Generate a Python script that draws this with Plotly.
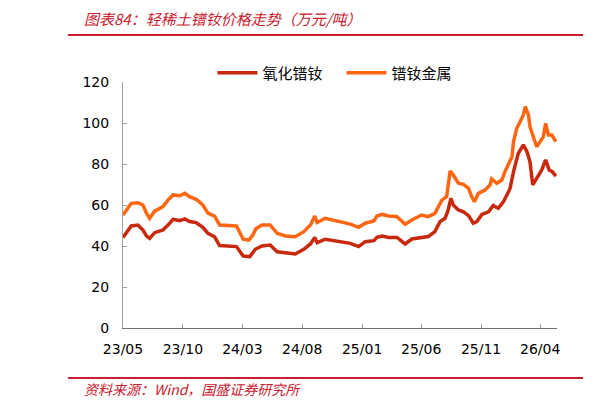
import plotly.graph_objects as go

# 轻稀土镨钕价格走势 (万元/吨)

oxide_dates = [
    "2023-05-01", "2023-05-22", "2023-06-08", "2023-06-21", "2023-06-30", "2023-07-08",
    "2023-07-21", "2023-08-11", "2023-08-24", "2023-09-06", "2023-09-23", "2023-10-06",
    "2023-10-18", "2023-11-04", "2023-11-21", "2023-12-04", "2023-12-21", "2024-01-03",
    "2024-02-15", "2024-03-03", "2024-03-20", "2024-04-03", "2024-04-20", "2024-05-11",
    "2024-05-29", "2024-06-19", "2024-07-14", "2024-08-05", "2024-08-22", "2024-09-02",
    "2024-09-08", "2024-09-29", "2024-10-25", "2024-11-11", "2024-12-02", "2024-12-23",
    "2025-01-09", "2025-01-31", "2025-02-08", "2025-02-21", "2025-03-10", "2025-03-31",
    "2025-04-13", "2025-04-21", "2025-05-08", "2025-06-02", "2025-06-19", "2025-07-06",
    "2025-07-19", "2025-08-01", "2025-08-09", "2025-08-16", "2025-08-22", "2025-09-04",
    "2025-09-17", "2025-09-30", "2025-10-12", "2025-10-21", "2025-11-03", "2025-11-20",
    "2025-12-02", "2025-12-15", "2025-12-28", "2026-01-06", "2026-01-14", "2026-01-23",
    "2026-02-04", "2026-02-17", "2026-02-26", "2026-03-06", "2026-03-13", "2026-03-23",
    "2026-04-05", "2026-04-15", "2026-04-24", "2026-05-02", "2026-05-11",
]
oxide_vals = [
    44.2, 49.8, 50.2, 47.8, 44.9, 43.7,
    46.5, 47.8, 50.2, 53.0, 52.4, 53.2,
    51.9, 51.4, 49.1, 46.2, 44.5, 40.2,
    39.7, 35.1, 34.8, 38.4, 40.0, 40.5,
    37.2, 36.7, 36.1, 38.4, 41.0, 44.2,
    41.6, 43.3, 42.6, 42.1, 41.3, 39.7,
    42.1, 42.6, 44.2, 44.9, 44.2, 44.2,
    42.1, 41.0, 43.4, 44.1, 44.6, 47.0,
    51.9, 53.5, 57.6, 63.3, 60.0, 57.6,
    56.7, 54.8, 51.1, 51.9, 55.4, 56.7,
    59.7, 58.4, 61.6, 64.9, 68.1, 76.3,
    85.2, 89.3, 86.1, 81.1, 69.8, 73.0,
    77.1, 82.0, 77.1, 76.3, 74.1,
]

metal_dates = [
    "2023-05-01", "2023-05-22", "2023-06-08", "2023-06-21", "2023-06-30", "2023-07-08",
    "2023-07-21", "2023-08-11", "2023-08-24", "2023-09-06", "2023-09-23", "2023-10-06",
    "2023-10-18", "2023-11-04", "2023-11-21", "2023-12-04", "2023-12-21", "2024-01-03",
    "2024-02-15", "2024-03-03", "2024-03-18", "2024-03-28", "2024-04-04", "2024-04-20",
    "2024-05-11", "2024-05-29", "2024-06-19", "2024-07-14", "2024-08-05", "2024-08-22",
    "2024-09-02", "2024-09-08", "2024-09-29", "2024-10-25", "2024-11-11", "2024-12-02",
    "2024-12-23", "2025-01-09", "2025-01-31", "2025-02-08", "2025-02-21", "2025-03-10",
    "2025-03-31", "2025-04-13", "2025-04-21", "2025-05-08", "2025-06-02", "2025-06-19",
    "2025-07-06", "2025-07-15", "2025-07-24", "2025-08-05", "2025-08-14", "2025-08-22",
    "2025-09-04", "2025-09-17", "2025-09-30", "2025-10-08", "2025-10-15", "2025-10-25",
    "2025-11-11", "2025-11-24", "2025-11-28", "2025-12-11", "2025-12-24", "2026-01-01",
    "2026-01-10", "2026-01-19", "2026-01-23", "2026-01-31", "2026-02-09", "2026-02-17",
    "2026-02-22", "2026-03-02", "2026-03-06", "2026-03-15", "2026-03-23", "2026-04-01",
    "2026-04-09", "2026-04-15", "2026-04-22", "2026-05-01", "2026-05-11",
]
metal_vals = [
    55.1, 60.8, 61.1, 60.0, 56.0, 53.5,
    57.0, 59.2, 62.4, 64.9, 64.5, 65.7,
    64.1, 62.8, 60.0, 56.0, 54.6, 50.2,
    49.8, 43.3, 42.9, 45.4, 48.3, 50.2,
    50.2, 46.2, 44.9, 44.5, 47.0, 50.2,
    54.6, 51.4, 53.5, 52.4, 51.9, 50.7,
    49.1, 51.1, 52.2, 54.6, 55.4, 54.6,
    54.3, 51.9, 50.6, 52.7, 55.1, 54.3,
    55.9, 59.2, 62.4, 64.1, 76.6, 74.6,
    70.6, 70.1, 68.1, 64.1, 61.6, 65.7,
    67.3, 69.8, 72.7, 70.6, 72.2, 76.3,
    80.3, 83.6, 90.9, 97.4, 100.7, 103.9,
    108.0, 103.9, 98.2, 92.5, 88.4, 90.9,
    93.3, 99.8, 94.1, 94.1, 90.9,
]

tick_dates = ["2023-05-01", "2023-10-01", "2024-03-01", "2024-08-01",
              "2025-01-01", "2025-06-01", "2025-11-01", "2026-04-01"]
tick_text = ["23/05", "23/10", "24/03", "24/08", "25/01", "25/06", "25/11", "26/04"]

fig = go.Figure()
fig.add_trace(go.Scatter(x=oxide_dates, y=oxide_vals, mode="lines", name="氧化镨钕",
                         line=dict(color="#C8290C", width=3.5)))
fig.add_trace(go.Scatter(x=metal_dates, y=metal_vals, mode="lines", name="镨钕金属",
                         line=dict(color="#FF6612", width=3.5)))

red = "#C8202E"
cjk = "Noto Sans CJK SC"

# page body has an 8px margin, so the figure is 8px smaller and margins shifted
fig.update_layout(
    width=604, height=401,
    margin=dict(l=115, r=55, t=74, b=81),
    paper_bgcolor="white", plot_bgcolor="white",
    font=dict(family="DejaVu Sans, " + cjk, size=14, color="black"),
    showlegend=True,
    legend=dict(orientation="h", x=0.206, y=1.037, xanchor="left", yanchor="middle",
                font=dict(family=cjk, size=15), itemwidth=40,
                entrywidth=74, entrywidthmode="pixels", bgcolor="rgba(0,0,0,0)"),
    xaxis=dict(type="date", range=["2023-05-01", "2026-05-14"],
               tickvals=tick_dates, ticktext=tick_text,
               showgrid=False, zeroline=False,
               showline=True, linecolor="#707070", linewidth=1,
               ticks="inside", ticklen=4, tickcolor="#A0A0A0",
               ticklabelstandoff=8, tickfont=dict(size=14)),
    yaxis=dict(range=[0, 120], tickvals=[0, 20, 40, 60, 80, 100, 120],
               showgrid=False, zeroline=False,
               showline=True, linecolor="#A0A0A0", linewidth=1,
               ticks="inside", ticklen=4, tickcolor="#A0A0A0",
               ticklabelstandoff=10, tickfont=dict(size=14)),
)

# red rules above and below the chart
for yy in [1.191, -0.203]:
    fig.add_shape(type="line", xref="paper", yref="paper", x0=-0.127, x1=1.06, y0=yy, y1=yy,
                  line=dict(color=red, width=2))
    fig.add_shape(type="line", xref="paper", yref="paper", x0=1.117, x1=1.15, y0=yy, y1=yy,
                  line=dict(color=red, width=2))

fig.add_annotation(text="<i>图表84：轻稀土镨钕价格走势（万元/吨）</i>", xref="paper", yref="paper",
                   x=-0.0945, y=1.26, xanchor="left", yanchor="middle", showarrow=False,
                   font=dict(family=cjk, size=15, color=red))
fig.add_annotation(text="<i>资料来源：Wind，国盛证券研究所</i>", xref="paper", yref="paper",
                   x=-0.0945, y=-0.248, xanchor="left", yanchor="middle", showarrow=False,
                   font=dict(family=cjk, size=14, color=red))

fig.write_html("out.html")
